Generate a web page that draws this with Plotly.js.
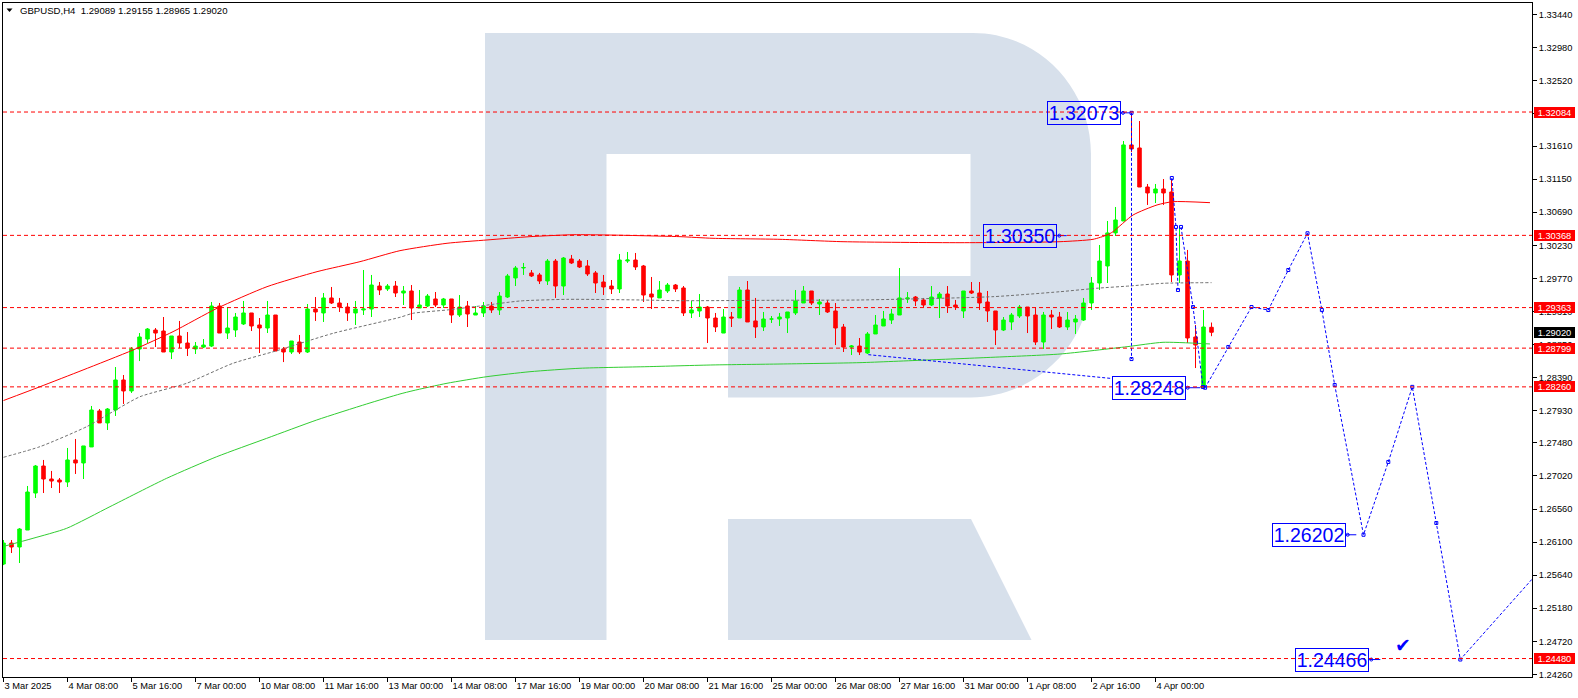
<!DOCTYPE html>
<html><head><meta charset="utf-8">
<script src="https://cdn.plot.ly/plotly-3.0.1.min.js"></script>
<style>html,body{margin:0;padding:0;background:#fff;overflow:hidden}#chart{width:1578px;height:698px}</style>
</head><body><div id="chart"></div>
<script>
// ---------- DATA ----------
const tickIdx = [0,8,16,24,32,40,48,56,64,72,80,88,96,104,112,120,128,136,144];
const tickText = ['3 Mar 2025','4 Mar 08:00','5 Mar 16:00','7 Mar 00:00','10 Mar 08:00','11 Mar 16:00','13 Mar 00:00','14 Mar 08:00','17 Mar 16:00','19 Mar 00:00','20 Mar 08:00','21 Mar 16:00','25 Mar 00:00','26 Mar 08:00','27 Mar 16:00','31 Mar 00:00','1 Apr 08:00','2 Apr 16:00','4 Apr 00:00'];
const priceTicks = [1.33440,1.32980,1.32520,1.32060,1.31610,1.31150,1.30690,1.30230,1.29770,1.29310,1.28850,1.28390,1.27930,1.27480,1.27020,1.26560,1.26100,1.25640,1.25180,1.24720,1.24260];

const open = [
1.25795,1.26087,1.26032,1.26268,1.26783,1.27159,1.26978,1.26964,1.26936,1.27243,
1.27201,1.27424,1.27925,1.27758,1.27938,1.28356,1.28203,1.28787,1.28926,1.29051,
1.29037,1.28745,1.28968,1.28870,1.28787,1.28814,1.28828,1.29385,1.29009,1.29051,
1.29135,1.29288,1.29121,1.29079,1.29260,1.28787,1.28745,1.28884,1.28745,1.29343,
1.29288,1.29497,1.29427,1.29371,1.29288,1.29330,1.29343,1.29663,1.29622,1.29663,
1.29566,1.29594,1.29357,1.29385,1.29483,1.29399,1.29483,1.29260,1.29385,1.29260,
1.29288,1.29385,1.29330,1.29510,1.29775,1.29914,1.29845,1.29817,1.29733,1.30011,
1.29663,1.30039,1.30011,1.29942,1.29845,1.29719,1.29663,1.29622,1.30011,1.30025,
1.29942,1.29552,1.29497,1.29594,1.29677,1.29636,1.29288,1.29316,1.29371,1.29218,
1.29009,1.29232,1.29218,1.29608,1.29177,1.29093,1.29204,1.29204,1.29218,1.29288,
1.29427,1.29594,1.29413,1.29427,1.29316,1.29093,1.28814,1.28828,1.28731,1.28996,
1.29107,1.29190,1.29260,1.29483,1.29510,1.29469,1.29399,1.29497,1.29552,1.29399,
1.29316,1.29594,1.29566,1.29441,1.29316,1.29051,1.29163,1.29246,1.29371,1.29260,
1.28884,1.29260,1.29232,1.29093,1.29163,1.29190,1.29427,1.29705,1.29942,1.30402,
1.30568,1.31626,1.31584,1.31041,1.30958,1.31013,1.30972,1.29817,1.30011,1.28954,
1.28248,1.29089];
const high = [
1.26129,1.26129,1.26296,1.26881,1.27173,1.27243,1.27090,1.26992,1.27410,1.27535,
1.27438,1.27994,1.27952,1.27966,1.28536,1.28425,1.28814,1.29009,1.29079,1.29079,
1.29232,1.28968,1.29177,1.29023,1.28884,1.28926,1.29441,1.29427,1.29371,1.29288,
1.29455,1.29288,1.29218,1.29455,1.29260,1.28814,1.28898,1.28982,1.29413,1.29510,
1.29566,1.29650,1.29497,1.29427,1.29455,1.29886,1.29817,1.29719,1.29691,1.29733,
1.29663,1.29677,1.29608,1.29552,1.29580,1.29497,1.29483,1.29538,1.29455,1.29385,
1.29441,1.29441,1.29580,1.29831,1.29942,1.29984,1.29886,1.29845,1.30039,1.30039,
1.30067,1.30095,1.30039,1.30025,1.29872,1.29817,1.29747,1.30109,1.30137,1.30123,
1.29956,1.29789,1.29733,1.29705,1.29691,1.29663,1.29455,1.29552,1.29385,1.29288,
1.29343,1.29302,1.29650,1.29733,1.29497,1.29302,1.29246,1.29288,1.29302,1.29608,
1.29663,1.29594,1.29483,1.29469,1.29427,1.29135,1.28842,1.28940,1.29023,1.29260,
1.29316,1.29343,1.29914,1.29580,1.29524,1.29497,1.29663,1.29580,1.29663,1.29469,
1.29594,1.29719,1.29719,1.29594,1.29316,1.29232,1.29288,1.29399,1.29371,1.29371,
1.29302,1.29330,1.29302,1.29302,1.29260,1.29497,1.29789,1.30234,1.30568,1.30763,
1.31681,1.32073,1.31959,1.31083,1.31083,1.31152,1.31138,1.30485,1.30165,1.29121,
1.29330,1.29155];
const low = [
1.25780,1.25948,1.25809,1.26268,1.26714,1.26783,1.26853,1.26783,1.26867,1.27048,
1.26978,1.27424,1.27758,1.27660,1.27855,1.28022,1.28175,1.28619,1.28870,1.28814,
1.28745,1.28647,1.28800,1.28689,1.28717,1.28800,1.28814,1.29009,1.28926,1.28954,
1.29121,1.29037,1.28731,1.29009,1.28759,1.28605,1.28717,1.28717,1.28731,1.29177,
1.29163,1.29413,1.29302,1.29177,1.29121,1.29260,1.29232,1.29538,1.29594,1.29510,
1.29399,1.29190,1.29357,1.29371,1.29371,1.29357,1.29149,1.29232,1.29093,1.29260,
1.29232,1.29288,1.29260,1.29497,1.29663,1.29817,1.29789,1.29691,1.29677,1.29497,
1.29538,1.29970,1.29914,1.29803,1.29566,1.29538,1.29552,1.29566,1.29984,1.29886,
1.29441,1.29343,1.29497,1.29566,1.29580,1.29246,1.29218,1.29232,1.28870,1.29023,
1.29009,1.29093,1.29218,1.29163,1.28940,1.29037,1.29149,1.29107,1.29009,1.29260,
1.29427,1.29399,1.29260,1.29288,1.28842,1.28745,1.28703,1.28703,1.28717,1.28996,
1.29107,1.29135,1.29260,1.29427,1.29385,1.29371,1.29385,1.29218,1.29288,1.29330,
1.29218,1.29552,1.29330,1.29163,1.28842,1.29037,1.29051,1.29218,1.29009,1.28842,
1.28787,1.29065,1.29079,1.29051,1.28996,1.29177,1.29330,1.29608,1.29705,1.30359,
1.30568,1.31528,1.31041,1.30791,1.30818,1.30791,1.29719,1.29705,1.28870,1.28522,
1.28248,1.28965];
const close = [
1.26087,1.26032,1.26282,1.26797,1.27159,1.26978,1.26950,1.26936,1.27243,1.27201,
1.27438,1.27938,1.27758,1.27952,1.28356,1.28203,1.28787,1.28954,1.29065,1.29009,
1.28745,1.28968,1.28870,1.28800,1.28828,1.28842,1.29385,1.29009,1.29079,1.29232,
1.29288,1.29107,1.29079,1.29260,1.28759,1.28745,1.28898,1.28745,1.29343,1.29302,
1.29497,1.29427,1.29371,1.29288,1.29343,1.29343,1.29677,1.29608,1.29663,1.29566,
1.29594,1.29357,1.29399,1.29524,1.29399,1.29483,1.29260,1.29371,1.29274,1.29288,
1.29385,1.29330,1.29524,1.29803,1.29914,1.29921,1.29803,1.29733,1.30011,1.29663,
1.30053,1.29984,1.29928,1.29831,1.29705,1.29650,1.29622,1.30025,1.30025,1.29928,
1.29538,1.29510,1.29608,1.29677,1.29622,1.29288,1.29330,1.29371,1.29218,1.29093,
1.29232,1.29218,1.29608,1.29163,1.29093,1.29204,1.29204,1.29232,1.29302,1.29455,
1.29594,1.29427,1.29441,1.29302,1.29079,1.28814,1.28828,1.28745,1.28996,1.29121,
1.29204,1.29274,1.29497,1.29497,1.29455,1.29399,1.29510,1.29552,1.29385,1.29371,
1.29594,1.29566,1.29427,1.29316,1.29051,1.29190,1.29260,1.29371,1.29246,1.28884,
1.29260,1.29232,1.29093,1.29190,1.29204,1.29427,1.29705,1.30011,1.30402,1.30582,
1.31626,1.31570,1.31041,1.30958,1.31013,1.30958,1.29817,1.30011,1.28940,1.28842,
1.29093,1.29020];

// moving averages (bar index, price)
const redMaX = [0,4.56,9.94,16.19,21.19,26.69,32.94,39.19,44.56,49.56,55.44,60.44,65.81,71.19,75.44,79.56,84.56,88.69,97.06,104.94,119.56,132.06,136.19,137.94,138.69,141.19,144.19,146.19,150.81];
const redMaY = [1.28070,1.28262,1.28495,1.28773,1.29028,1.29353,1.29654,1.29863,1.30002,1.30155,1.30258,1.30304,1.30350,1.30377,1.30373,1.30364,1.30350,1.30327,1.30313,1.30280,1.30266,1.30280,1.30313,1.30373,1.30419,1.30651,1.30791,1.30837,1.30823];
const grayMaX = [0,4.56,10.4,13.31,17.06,22.9,28.69,34.15,41.19,49.56,51.19,55.44,59.56,64.56,70.44,79.56,84.56,97.06,107.06,123.69,132.06,136.65,140.81,144.94,151.0];
const grayMaY = [1.27280,1.27428,1.27706,1.27892,1.28123,1.28310,1.28588,1.28763,1.29005,1.29228,1.29284,1.29330,1.29385,1.29455,1.29478,1.29469,1.29459,1.29465,1.29469,1.29515,1.29584,1.29632,1.29664,1.29701,1.29710];
const greenMaX = [0,3.69,7.9,13.31,20.4,26.65,32.9,39.15,45.4,49.56,51.19,55.44,60.44,65.81,72.06,80.44,88.69,97.06,107.06,115.44,123.69,132.06,140.44,144.94,150.81];
const greenMaY = [1.26040,1.26153,1.26292,1.26593,1.26988,1.27288,1.27544,1.27799,1.28022,1.28161,1.28207,1.28310,1.28402,1.28471,1.28519,1.28541,1.28565,1.28578,1.28597,1.28634,1.28672,1.28717,1.28819,1.28880,1.28857];

// horizontal levels
const levels = [1.32084,1.30368,1.29363,1.28799,1.28260,1.24480];
const lastPrice = 1.29020;

// drawn blue lines
const trendX = [108.1,138.5];
const trendY = [1.28708,1.28377];
const vertX = [141.0,141.0];
const vertY = [1.32073,1.28647];
const waveX = [146.04,146.56,146.81,null,147.19,148.69,149.94];
const waveY = [1.31166,1.30485,1.29608,null,1.30485,1.29371,1.28258];
const fcX = [150.2,153.1,156.0,158.1,160.6,163.0,164.8,166.4,170.0,173.1,176.1,179.1,182.1,191.5];
const fcY = [1.28248,1.28815,1.29371,1.29329,1.29886,1.30397,1.29329,1.28286,1.26202,1.27215,1.28260,1.26366,1.24466,1.25638];

// price labels with their pins
const boxText = ['1.32073','1.30350','1.28248','1.26202','1.24466'];
const boxX = [135.06,127.1,143.15,163.15,166.1];
const boxY = [1.32067,1.30359,1.28245,1.26195,1.24460];
const pinX = [141.0,132.9,149.6,169.1,172.1];
const pinY = [1.32073,1.30364,1.28248,1.26202,1.24466];
const checkX = 174.9, checkY = 1.24668;

const titleText = 'GBPUSD,H4\u00a0\u00a01.29089 1.29155 1.28965 1.29020';

// ---------- LAYOUT GEOMETRY ----------
const W = 1578, H = 698, ML = 3, MR = 46, MT = 3, MB = 21;
const PW = W - ML - MR, PH = H - MT - MB;
const BLUE = '#0000ff';
const AXFONT = {family:'Liberation Sans, Arial, sans-serif', size:9.3, color:'#000'};
function px(x){ return ((x-ML)/PW).toFixed(5); }
function py(y){ return (1-(y-MT)/PH).toFixed(5); }
function P(x,y){ return px(x)+' '+py(y); }

const idx = open.map((_,i)=>i);

const traces = [];
traces.push({type:'scatter',mode:'lines',x:greenMaX,y:greenMaY,line:{color:'#32cd32',width:1,shape:'spline',smoothing:0.6},hoverinfo:'skip'});
traces.push({type:'scatter',mode:'lines',x:grayMaX,y:grayMaY,line:{color:'#707070',width:1,dash:'3px,2px',shape:'spline',smoothing:0.6},hoverinfo:'skip'});
traces.push({type:'scatter',mode:'lines',x:redMaX,y:redMaY,line:{color:'#ff0000',width:1,shape:'spline',smoothing:0.6},hoverinfo:'skip'});
traces.push({type:'candlestick',x:idx,open:open,high:high,low:low,close:close,
  increasing:{line:{color:'#00ff00',width:1},fillcolor:'#00ff00'},
  decreasing:{line:{color:'#ff0000',width:1},fillcolor:'#ff0000'},
  whiskerwidth:0,hoverinfo:'skip'});
const dashBlue = {color:BLUE,width:1,dash:'3px,2px'};
traces.push({type:'scatter',mode:'lines',x:trendX,y:trendY,line:dashBlue,hoverinfo:'skip'});
traces.push({type:'scatter',mode:'lines+markers',x:vertX,y:vertY,line:dashBlue,marker:{symbol:'square-open',size:3,color:BLUE,line:{width:1}},hoverinfo:'skip'});
traces.push({type:'scatter',mode:'lines+markers',x:waveX,y:waveY,line:dashBlue,connectgaps:false,marker:{symbol:'square-open',size:3,color:BLUE,line:{width:1}},hoverinfo:'skip'});
traces.push({type:'scatter',mode:'lines+markers',x:fcX,y:fcY,line:dashBlue,marker:{symbol:'square-open',size:3,color:BLUE,line:{width:1}},hoverinfo:'skip'});
// connectors from label boxes to their pins
boxText.forEach((t,k)=>{
  const x0 = boxX[k] + 37/8;
  traces.push({type:'scatter',mode:'lines',x:[x0,pinX[k]],y:[pinY[k],pinY[k]],line:{color:BLUE,width:1},hoverinfo:'skip'});
  traces.push({type:'scatter',mode:'markers',x:[x0+0.25],y:[pinY[k]],marker:{symbol:'circle-open',size:3,color:BLUE,line:{width:1}},hoverinfo:'skip'});
});

const shapes = [];
// watermark "R"
shapes.push({type:'path',xref:'paper',yref:'paper',layer:'below',fillcolor:'#d7e0eb',line:{width:0},
  path:'M '+P(485,33)+' L '+P(973,33)+' C '+P(1038,33)+' '+P(1091,87)+' '+P(1091,154)+' L '+P(1091,277)+
  ' C '+P(1091,343)+' '+P(1036,397.5)+' '+P(971,397.5)+' L '+P(728,397.5)+' L '+P(728,276)+' L '+P(970.5,276)+
  ' L '+P(970.5,154)+' L '+P(606.5,154)+' L '+P(606.5,640)+' L '+P(485,640)+' Z'});
shapes.push({type:'path',xref:'paper',yref:'paper',layer:'below',fillcolor:'#d7e0eb',line:{width:0},
  path:'M '+P(728,519)+' L '+P(971,519)+' L '+P(1031.5,640)+' L '+P(728,640)+' Z'});
// level lines
levels.forEach(v=>{
  shapes.push({type:'line',xref:'paper',x0:0,x1:1,yref:'y',y0:v,y1:v,layer:'above',line:{color:'#ff0000',width:1,dash:'4px,3px'}});
});
// title triangle
shapes.push({type:'path',xref:'paper',yref:'paper',fillcolor:'#000',line:{width:0},
  path:'M '+P(6.5,8.5)+' L '+P(12.5,8.5)+' L '+P(9.5,12)+' Z'});

const annotations = [];
annotations.push({xref:'paper',yref:'paper',x:Number(px(18)),y:Number(py(10.5)),xanchor:'left',yanchor:'middle',
  text:titleText,showarrow:false,font:{family:'Liberation Sans, Arial, sans-serif',size:9.6,color:'#000'}});
boxText.forEach((t,k)=>{
  annotations.push({xref:'x',yref:'y',x:boxX[k],y:boxY[k],text:t,showarrow:false,xanchor:'center',yanchor:'middle',
    width:72,height:22,borderwidth:1,borderpad:0,bordercolor:BLUE,
    font:{family:'Liberation Sans, Arial, sans-serif',size:19.5,color:BLUE}});
});
annotations.push({xref:'x',yref:'y',x:checkX,y:checkY,text:'\u2714',showarrow:false,
  font:{family:'DejaVu Sans',size:19,color:BLUE}});
levels.forEach(v=>{
  annotations.push({xref:'paper',x:1,xshift:2,xanchor:'left',yref:'y',y:v,yanchor:'middle',text:v.toFixed(5),
    showarrow:false,bgcolor:'#ff0000',width:39,height:9,borderpad:1,borderwidth:0,align:'center',
    font:{family:'Liberation Sans, Arial, sans-serif',size:9.3,color:'#fff'}});
});
annotations.push({xref:'paper',x:1,xshift:2,xanchor:'left',yref:'y',y:lastPrice,yanchor:'middle',text:lastPrice.toFixed(5),
  showarrow:false,bgcolor:'#000',width:39,height:9,borderpad:1,borderwidth:0,align:'center',
  font:{family:'Liberation Sans, Arial, sans-serif',size:9.3,color:'#fff'}});

const layout = {
  width:W,height:H,margin:{l:ML,r:MR,t:MT,b:MB,pad:0},
  paper_bgcolor:'#fff',plot_bgcolor:'#fff',showlegend:false,boxgap:0.375,
  font:AXFONT,
  xaxis:{range:[(ML-3.5)/8, (ML-3.5)/8 + PW/8],tickvals:tickIdx,ticktext:tickText,ticks:'outside',ticklen:4,
    tickcolor:'#000',tickwidth:1,showline:true,linecolor:'#000',linewidth:1,mirror:true,showgrid:false,zeroline:false,
    ticklabelposition:'outside right',tickfont:AXFONT,rangeslider:{visible:false},fixedrange:true},
  yaxis:{side:'right',range:[1.242231,1.336011],tickvals:priceTicks,ticktext:priceTicks.map(v=>v.toFixed(5)),
    ticks:'outside',ticklen:4,tickcolor:'#000',tickwidth:1,showline:true,linecolor:'#000',linewidth:1,mirror:true,
    showgrid:false,zeroline:false,tickfont:AXFONT,fixedrange:true},
  shapes:shapes,annotations:annotations
};
Plotly.newPlot('chart',traces,layout,{displayModeBar:false,staticPlot:true});
</script></body></html>
